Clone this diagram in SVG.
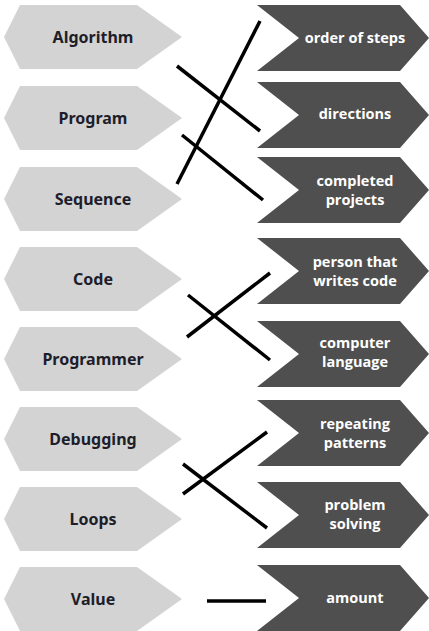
<svg xmlns="http://www.w3.org/2000/svg" width="429" height="631" viewBox="0 0 429 631">
<style>
.hex{fill:#d3d3d3}
.chev{fill:#4f4f4f}
.lt{font-family:"Noto Sans","Liberation Sans",sans-serif;font-weight:bold;font-size:16px;fill:#1e1e2a;text-anchor:middle}
.rt{font-family:"Open Sans","Liberation Sans",sans-serif;font-weight:bold;font-size:14.5px;fill:#ffffff;text-anchor:middle}
.ln{stroke:#000;stroke-width:3.5;fill:none}
</style>
<defs>
<polygon id="hx" points="4,0 20,-32 137,-32 182,0 137,32 20,32"/>
<polygon id="cv" points="257,-33 400,-33 429,0 400,33 257,33 299,0"/>
</defs>
<g id="n-algorithm"><use href="#hx" class="hex" y="37"/><text class="lt" x="93" y="43">Algorithm</text></g>
<g id="n-program"><use href="#hx" class="hex" y="118"/><text class="lt" x="93" y="124">Program</text></g>
<g id="n-sequence"><use href="#hx" class="hex" y="199"/><text class="lt" x="93" y="205">Sequence</text></g>
<g id="n-code"><use href="#hx" class="hex" y="279"/><text class="lt" x="93" y="285">Code</text></g>
<g id="n-programmer"><use href="#hx" class="hex" y="359"/><text class="lt" x="93" y="365">Programmer</text></g>
<g id="n-debugging"><use href="#hx" class="hex" y="439"/><text class="lt" x="93" y="445">Debugging</text></g>
<g id="n-loops"><use href="#hx" class="hex" y="519"/><text class="lt" x="93" y="525">Loops</text></g>
<g id="n-value"><use href="#hx" class="hex" y="599"/><text class="lt" x="93" y="605">Value</text></g>

<g id="n-order"><use href="#cv" class="chev" y="38"/><text class="rt" x="355" y="43">order of steps</text></g>
<g id="n-directions"><use href="#cv" class="chev" y="115"/><text class="rt" x="355" y="119">directions</text></g>
<g id="n-completed"><use href="#cv" class="chev" y="190"/><text class="rt" x="355" y="186">completed</text><text class="rt" x="355" y="205">projects</text></g>
<g id="n-person"><use href="#cv" class="chev" y="271"/><text class="rt" x="355" y="267">person that</text><text class="rt" x="355" y="286">writes code</text></g>
<g id="n-computer"><use href="#cv" class="chev" y="354"/><text class="rt" x="355" y="348">computer</text><text class="rt" x="355" y="367">language</text></g>
<g id="n-repeating"><use href="#cv" class="chev" y="433"/><text class="rt" x="355" y="429">repeating</text><text class="rt" x="355" y="448">patterns</text></g>
<g id="n-problem"><use href="#cv" class="chev" y="515"/><text class="rt" x="355" y="510">problem</text><text class="rt" x="355" y="529">solving</text></g>
<g id="n-amount"><use href="#cv" class="chev" y="598"/><text class="rt" x="355" y="603">amount</text></g>

<g id="connectors">
<line class="ln" x1="177" y1="184" x2="260" y2="21"/>
<line class="ln" x1="177" y1="66" x2="260" y2="131"/>
<line class="ln" x1="182" y1="135" x2="263" y2="200"/>
<line class="ln" x1="187" y1="337" x2="270" y2="273"/>
<line class="ln" x1="188" y1="295" x2="270" y2="360"/>
<line class="ln" x1="183" y1="494" x2="267" y2="432"/>
<line class="ln" x1="183" y1="464" x2="267" y2="528"/>
<line class="ln" x1="207" y1="601" x2="266" y2="601"/>
</g>
</svg>
